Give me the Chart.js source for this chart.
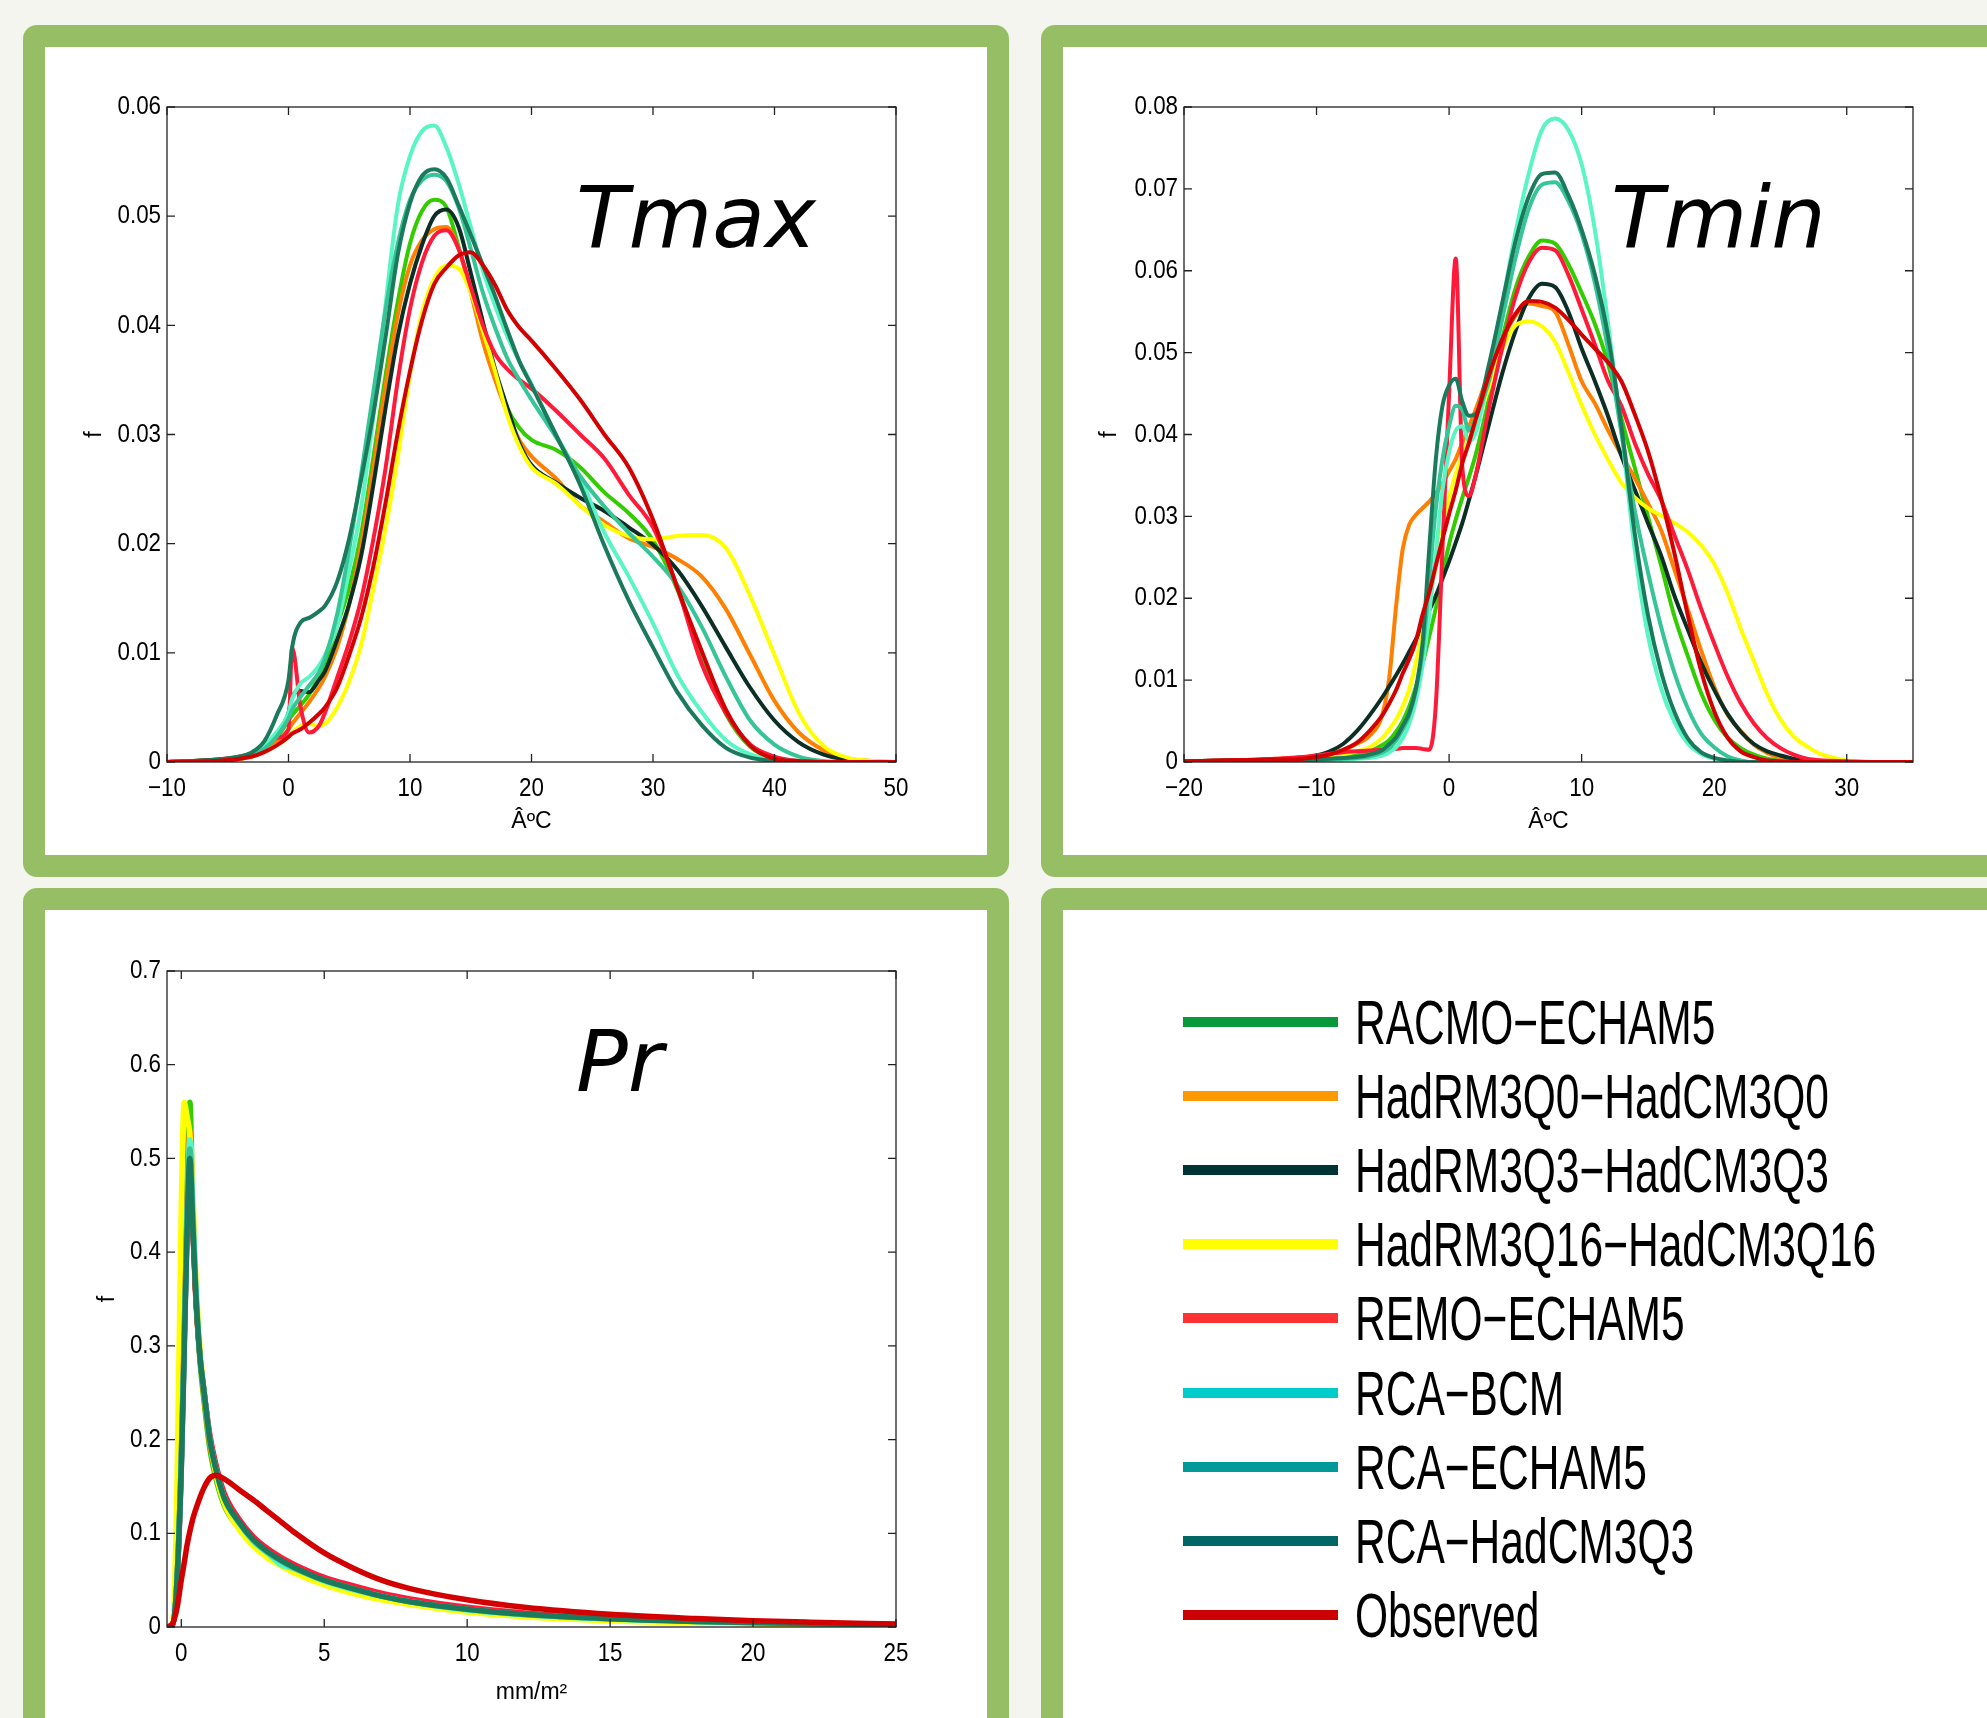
<!DOCTYPE html>
<html>
<head>
<meta charset="utf-8">
<title>Tmax / Tmin / Pr</title>
<script src="https://cdn.jsdelivr.net/npm/chart.js@4.4.1/dist/chart.umd.min.js"></script>
<style>
  html, body { margin: 0; padding: 0; }
  body { width: 1987px; height: 1718px; overflow: hidden; position: relative; background: #f4f5ee; }
  .panel { position: absolute; box-sizing: border-box; border: 22px solid #96be64; border-radius: 14px; background: #fff; }
  canvas { position: absolute; }
  .ttl { position: absolute; font: italic 86px 'DejaVu Sans', sans-serif; line-height: 86px; color: #000; white-space: nowrap; }
  .sw { position: absolute; left: 1183px; width: 155px; height: 10px; }
  .lab { position: absolute; left: 1355px; height: 70px; line-height: 70px; font-size: 63px; color: #000;
         font-family: 'Liberation Sans', Arial, sans-serif; white-space: nowrap;
         transform: scaleX(0.675); transform-origin: left center; }
</style>
</head>
<body>
<div class="panel" style="left:23px;top:25px;width:986px;height:852px"></div>
<div class="panel" style="left:1041px;top:25px;width:1100px;height:852px"></div>
<div class="panel" style="left:23px;top:888px;width:986px;height:1000px"></div>
<div class="panel" style="left:1041px;top:888px;width:1100px;height:1000px"></div>

<canvas id="cTmax" width="941" height="807" style="left:45px;top:47px"></canvas>
<canvas id="cTmin" width="924" height="807" style="left:1063px;top:47px"></canvas>
<canvas id="cPr" width="941" height="807" style="left:45px;top:911px"></canvas>

<div class="ttl" style="left:576px;top:174px">Tmax</div>
<div class="ttl" style="left:1611px;top:174px">Tmin</div>
<div class="ttl" style="left:576px;top:1018px">Pr</div>

<div id="legend"></div>

<script>
// model names, line colours in the plots, colours in the legend box
const names = ['RACMO-ECHAM5', 'HadRM3Q0-HadCM3Q0', 'HadRM3Q3-HadCM3Q3', 'HadRM3Q16-HadCM3Q16',
  'REMO-ECHAM5', 'RCA-BCM', 'RCA-ECHAM5', 'RCA-HadCM3Q3', 'Observed'];
const lineColors = ['#33cc00', '#ff8000', '#0c2e25', '#ffff00', '#ff1a3a', '#5af5c4', '#36c596', '#1c7a5c', '#d20000'];
const legendColors = ['#089a3a', '#ff9900', '#003333', '#ffff00', '#ff3333', '#00cccc', '#009999', '#006666', '#cc0000'];

// ---- Tmax ----
const tmaxX = [-10, -6, -4, -3, -2, -1, 0, 0.3, 1, 1.7, 2.5, 3, 4, 5, 6, 7, 8, 9, 10, 11, 12, 13, 14, 15, 16, 17, 18, 19, 20,
  22, 24, 26, 28, 30, 32, 34, 36, 38, 40, 42, 44, 46, 48, 50];
const tmaxRacmo = [0, 0.0002, 0.0004, 0.0007, 0.0012, 0.0022, 0.0038, 0.0043, 0.0052, 0.0062, 0.0078,
  0.009, 0.0125, 0.016, 0.021, 0.028, 0.0355, 0.0422, 0.0475, 0.0505, 0.0515, 0.0508, 0.0472, 0.0432, 0.039, 0.0353, 0.0324, 0.0306, 0.0295,
  0.0286, 0.027, 0.0247, 0.0228, 0.0203, 0.0158, 0.0097, 0.0044, 0.0014, 0.0003, 0.0001, 0, 0, 0, 0];
const tmaxQ0 = [0, 0.0001, 0.0003, 0.0005, 0.001, 0.0018, 0.003, 0.0035, 0.0045, 0.0055, 0.0068,
  0.0078, 0.0105, 0.0145, 0.02, 0.027, 0.0345, 0.041, 0.0455, 0.0478, 0.0488, 0.049, 0.047, 0.043, 0.0385, 0.035, 0.032, 0.0295, 0.028,
  0.026, 0.0235, 0.022, 0.0205, 0.0197, 0.0186, 0.017, 0.014, 0.0098, 0.0056, 0.0027, 0.0011, 0.0003, 0.0001, 0];
const tmaxQ3 = [0, 0.0002, 0.0004, 0.0007, 0.0013, 0.0024, 0.0045, 0.006, 0.0065, 0.0064, 0.0075,
  0.0083, 0.0112, 0.0145, 0.019, 0.0255, 0.0325, 0.039, 0.0438, 0.0474, 0.05, 0.0506, 0.049, 0.0448, 0.0403, 0.036, 0.0325, 0.0292, 0.0272,
  0.0256, 0.0242, 0.023, 0.0215, 0.0199, 0.0176, 0.0143, 0.0105, 0.0068, 0.0038, 0.0018, 0.0007, 0.0002, 0, 0];
const tmaxQ16 = [0, 0.0001, 0.0003, 0.0005, 0.0009, 0.0015, 0.0023, 0.0027, 0.0033, 0.0035, 0.0033,
  0.0035, 0.005, 0.0074, 0.0108, 0.016, 0.0215, 0.028, 0.0355, 0.0412, 0.0443, 0.0455, 0.0452, 0.043, 0.0395, 0.0358, 0.0318, 0.0289, 0.027,
  0.0255, 0.0235, 0.0217, 0.0207, 0.0204, 0.0207, 0.0208, 0.0196, 0.0152, 0.0098, 0.0045, 0.0015, 0.0004, 0.0001, 0];
const tmaxRemo = [0, 0.0002, 0.0005, 0.0008, 0.0013, 0.0022, 0.003, 0.0105, 0.005, 0.0027, 0.0033,
  0.0045, 0.0077, 0.011, 0.015, 0.0205, 0.027, 0.035, 0.0415, 0.0458, 0.0482, 0.0487, 0.047, 0.0435, 0.04, 0.0374, 0.036, 0.035, 0.0342,
  0.0322, 0.03, 0.0278, 0.0245, 0.0215, 0.016, 0.009, 0.0045, 0.0016, 0.0005, 0.0001, 0, 0, 0, 0];
const tmaxRcaBcm = [0, 0.0001, 0.0003, 0.0007, 0.0015, 0.0027, 0.0045, 0.0058, 0.0072, 0.0078, 0.0088,
  0.0098, 0.0125, 0.0176, 0.0235, 0.0318, 0.042, 0.051, 0.0555, 0.0578, 0.0583, 0.0563, 0.053, 0.049, 0.045, 0.0418, 0.039, 0.0367, 0.0346,
  0.03, 0.026, 0.021, 0.017, 0.0127, 0.008, 0.0046, 0.002, 0.0007, 0.0002, 0.0001, 0, 0, 0, 0];
const tmaxRcaEcham = [0, 0.0001, 0.0003, 0.0006, 0.0012, 0.0023, 0.004, 0.0048, 0.006, 0.007, 0.0082,
  0.0095, 0.0135, 0.0195, 0.0265, 0.034, 0.0415, 0.0475, 0.0515, 0.0533, 0.0538, 0.0532, 0.0508, 0.047, 0.043, 0.0398, 0.037, 0.035, 0.0332,
  0.0298, 0.0262, 0.0234, 0.021, 0.0188, 0.0162, 0.0124, 0.0078, 0.0038, 0.0016, 0.0005, 0.0001, 0, 0, 0];
const tmaxRcaHad = [0, 0.0002, 0.0005, 0.0009, 0.0019, 0.0042, 0.0075, 0.0105, 0.0128, 0.0132, 0.0138,
  0.0143, 0.0165, 0.0205, 0.026, 0.032, 0.039, 0.0465, 0.0512, 0.0537, 0.0543, 0.0535, 0.051, 0.0483, 0.0455, 0.0427, 0.0396, 0.0367, 0.0345,
  0.03, 0.0254, 0.0198, 0.0148, 0.0105, 0.0064, 0.0034, 0.0013, 0.0004, 0.0001, 0, 0, 0, 0, 0];
const tmaxObs = [0, 0.0001, 0.0003, 0.0005, 0.0009, 0.0015, 0.0023, 0.0026, 0.003, 0.0036, 0.0044,
  0.005, 0.0068, 0.0098, 0.0133, 0.018, 0.0238, 0.0302, 0.0358, 0.0405, 0.0438, 0.0453, 0.0464, 0.0467, 0.0455, 0.0437, 0.0414, 0.0398, 0.0386,
  0.036, 0.0332, 0.03, 0.027, 0.0222, 0.016, 0.0102, 0.0048, 0.0015, 0.0003, 0.0001, 0, 0, 0, 0];

// ---- Tmin ----
const tminX = [-20, -16, -13, -11, -10, -9, -8, -7, -6, -5,
  -4.5, -4, -3.5, -3, -2.5, -2, -1.5, -1, -0.5, 0, 0.5, 1, 1.5,
  2, 3, 4, 5, 6, 7, 8, 9, 10, 11, 12, 13, 14, 15, 16, 17, 18, 19, 20, 21, 22, 23, 24, 25, 26, 27, 28,
  30, 32, 35];
const tminRacmo = [0.0001, 0.0002, 0.0003, 0.0004, 0.0005, 0.0006, 0.0008, 0.001, 0.0013, 0.0021,
  0.0027, 0.0037, 0.005, 0.0068, 0.0092, 0.012, 0.0153, 0.0188, 0.0228, 0.0266, 0.0296, 0.0323, 0.0348,
  0.0375, 0.0443, 0.0516, 0.0578, 0.0617, 0.0637, 0.0633, 0.0608, 0.0573, 0.0535, 0.0486, 0.042, 0.036, 0.03, 0.024, 0.0178, 0.013, 0.0085,
  0.0052, 0.003, 0.0017, 0.0009, 0.0004, 0.0002, 0.0001, 0, 0,
  0, 0, 0];
const tminQ0 = [0.0001, 0.0002, 0.0004, 0.0006, 0.0008, 0.001, 0.0014, 0.0022, 0.0032, 0.006,
  0.0105, 0.019, 0.026, 0.029, 0.0302, 0.031, 0.0318, 0.0328, 0.034, 0.0355, 0.037, 0.039, 0.041,
  0.043, 0.0475, 0.0515, 0.0545, 0.056, 0.0557, 0.055, 0.051, 0.0465, 0.0438, 0.0405, 0.0375, 0.0347, 0.0316, 0.0283, 0.0235, 0.0187, 0.0137,
  0.0092, 0.0058, 0.0038, 0.0021, 0.0011, 0.0005, 0.0002, 0.0001, 0,
  0, 0, 0];
const tminQ3 = [0.0001, 0.0002, 0.0003, 0.0005, 0.0008, 0.0013, 0.0022, 0.0037, 0.0057, 0.008,
  0.0093, 0.0106, 0.012, 0.0135, 0.015, 0.0167, 0.0185, 0.0203, 0.0224, 0.0245, 0.0268, 0.0292, 0.032,
  0.0349, 0.0412, 0.0474, 0.0526, 0.0566, 0.0584, 0.058, 0.055, 0.0505, 0.0465, 0.0422, 0.0374, 0.0333, 0.0292, 0.0252, 0.0203, 0.0162, 0.0122,
  0.0088, 0.0059, 0.0037, 0.0022, 0.0013, 0.0008, 0.0004, 0.0002, 0.0001,
  0, 0, 0];
const tminQ16 = [0.0001, 0.0001, 0.0002, 0.0003, 0.0004, 0.0006, 0.0009, 0.0013, 0.0018, 0.003,
  0.004, 0.0052, 0.0068, 0.0089, 0.0122, 0.0158, 0.0198, 0.024, 0.0283, 0.0323, 0.0352, 0.0375, 0.0395,
  0.0412, 0.0457, 0.0503, 0.0533, 0.0538, 0.0532, 0.0513, 0.0476, 0.0436, 0.04, 0.0369, 0.0341, 0.0323, 0.031, 0.0301, 0.0292, 0.0281, 0.0265,
  0.0242, 0.0207, 0.0163, 0.0123, 0.0083, 0.0052, 0.0031, 0.0019, 0.001,
  0.0002, 0, 0];
const tminRemo = [0.0001, 0.0002, 0.0004, 0.0006, 0.0008, 0.001, 0.0012, 0.0013, 0.0014, 0.0015,
  0.0016, 0.0016, 0.0017, 0.0017, 0.0017, 0.0016, 0.0015, 0.007, 0.026, 0.045, 0.0615, 0.036, 0.0325,
  0.035, 0.0432, 0.0505, 0.0568, 0.061, 0.0628, 0.0625, 0.0595, 0.0553, 0.051, 0.0465, 0.0435, 0.039, 0.0352, 0.032, 0.0277, 0.0235, 0.0188,
  0.0145, 0.0105, 0.0072, 0.0047, 0.0029, 0.0017, 0.0009, 0.0004, 0.0002,
  0.0001, 0, 0];
const tminRcaBcm = [0, 0.0001, 0.0001, 0.0002, 0.0002, 0.0003, 0.0003, 0.0004, 0.0005, 0.0008,
  0.0012, 0.0018, 0.0029, 0.0047, 0.0075, 0.0118, 0.018, 0.0255, 0.0332, 0.0378, 0.0405, 0.041, 0.0392,
  0.0402, 0.0474, 0.0558, 0.0646, 0.0718, 0.0772, 0.0786, 0.0772, 0.073, 0.065, 0.0535, 0.0405, 0.026, 0.0155, 0.009, 0.0049, 0.0023, 0.001,
  0.0004, 0.0001, 0, 0, 0, 0, 0, 0, 0,
  0, 0, 0];
const tminRcaEcham = [0, 0.0001, 0.0001, 0.0002, 0.0003, 0.0003, 0.0004, 0.0005, 0.0007, 0.0012,
  0.0017, 0.0026, 0.004, 0.0057, 0.0088, 0.0135, 0.0222, 0.031, 0.037, 0.041, 0.0435, 0.043, 0.0405,
  0.042, 0.0465, 0.054, 0.0615, 0.0675, 0.0705, 0.0708, 0.0685, 0.0645, 0.0585, 0.0503, 0.0402, 0.0308, 0.0232, 0.0165, 0.0109, 0.0066, 0.0035,
  0.0018, 0.0007, 0.0002, 0, 0, 0, 0, 0, 0,
  0, 0, 0];
const tminRcaHad = [0, 0.0001, 0.0002, 0.0002, 0.0003, 0.0004, 0.0005, 0.0006, 0.0009, 0.0015,
  0.0022, 0.003, 0.0044, 0.006, 0.009, 0.0145, 0.026, 0.037, 0.0435, 0.046, 0.0468, 0.044, 0.0423,
  0.0425, 0.0485, 0.056, 0.0635, 0.069, 0.0718, 0.072, 0.0692, 0.065, 0.0595, 0.052, 0.041, 0.028, 0.018, 0.011, 0.0061, 0.0029, 0.0012,
  0.0005, 0.0002, 0, 0, 0, 0, 0, 0, 0,
  0, 0, 0];
const tminObs = [0.0001, 0.0002, 0.0003, 0.0004, 0.0006, 0.0009, 0.0015, 0.0023, 0.0038, 0.0058,
  0.0072, 0.0088, 0.0108, 0.0126, 0.0148, 0.018, 0.0207, 0.024, 0.0272, 0.0303, 0.0332, 0.0365, 0.039,
  0.0418, 0.0472, 0.0516, 0.0547, 0.0563, 0.0562, 0.0555, 0.054, 0.0522, 0.0505, 0.0488, 0.0465, 0.0425, 0.038, 0.0322, 0.0255, 0.018, 0.0112,
  0.0062, 0.003, 0.0013, 0.0006, 0.0002, 0.0001, 0, 0, 0,
  0, 0, 0];

// ---- Pr ----
const prX = [-0.5, -0.3, -0.15, 0, 0.1, 0.2, 0.3, 0.4, 0.5, 0.65, 0.8, 1, 1.2, 1.5, 2, 2.5, 3, 3.5, 4, 5, 6, 7, 8, 10, 12, 15, 18, 20, 22, 25];
const prRacmo = [0, 0.003, 0.06, 0.2, 0.33, 0.47, 0.56, 0.45, 0.36, 0.285, 0.24, 0.19, 0.16, 0.13, 0.106, 0.089, 0.077, 0.068, 0.06, 0.048,
  0.039, 0.032, 0.026, 0.018, 0.0125, 0.008, 0.0053, 0.0041, 0.0032, 0.002];
const prQ0 = [0, 0.003, 0.055, 0.19, 0.32, 0.45, 0.53, 0.44, 0.36, 0.29, 0.245, 0.195, 0.165, 0.134, 0.109, 0.091, 0.078, 0.069, 0.061, 0.049,
  0.04, 0.033, 0.027, 0.0185, 0.013, 0.0084, 0.0057, 0.0044, 0.0034, 0.0021];
const prQ3 = [0, 0.003, 0.05, 0.17, 0.3, 0.42, 0.49, 0.43, 0.36, 0.29, 0.25, 0.2, 0.17, 0.138, 0.112, 0.093, 0.08, 0.07, 0.062, 0.05,
  0.041, 0.033, 0.027, 0.019, 0.0135, 0.0088, 0.006, 0.0047, 0.0037, 0.0024];
const prQ16 = [0, 0.005, 0.15, 0.45, 0.56, 0.545, 0.525, 0.47, 0.38, 0.3, 0.25, 0.2, 0.165, 0.132, 0.105, 0.087, 0.074, 0.065, 0.057, 0.045,
  0.036, 0.029, 0.024, 0.016, 0.011, 0.0068, 0.0045, 0.0034, 0.0026, 0.0016];
const prRemo = [0, 0.003, 0.05, 0.18, 0.31, 0.44, 0.51, 0.43, 0.355, 0.29, 0.25, 0.205, 0.175, 0.143, 0.116, 0.097, 0.084, 0.074, 0.066, 0.053,
  0.044, 0.036, 0.03, 0.021, 0.015, 0.0098, 0.0067, 0.0052, 0.0041, 0.0027];
const prRcaBcm = [0, 0.003, 0.05, 0.18, 0.3, 0.44, 0.52, 0.45, 0.37, 0.29, 0.25, 0.2, 0.17, 0.138, 0.112, 0.092, 0.079, 0.066, 0.062, 0.049,
  0.04, 0.033, 0.027, 0.018, 0.013, 0.0085, 0.0058, 0.0045, 0.0035, 0.0022];
const prRcaEcham = [0, 0.003, 0.05, 0.18, 0.3, 0.43, 0.51, 0.44, 0.365, 0.29, 0.25, 0.2, 0.17, 0.138, 0.112, 0.093, 0.08, 0.07, 0.062, 0.05,
  0.041, 0.033, 0.027, 0.019, 0.0133, 0.0087, 0.0059, 0.0046, 0.0036, 0.0023];
const prRcaHad = [0, 0.003, 0.05, 0.17, 0.29, 0.42, 0.5, 0.43, 0.36, 0.29, 0.25, 0.2, 0.17, 0.138, 0.113, 0.094, 0.081, 0.071, 0.063, 0.05,
  0.041, 0.033, 0.027, 0.019, 0.0135, 0.0088, 0.006, 0.0047, 0.0037, 0.0024];
const prObs = [0, 0.004, 0.02, 0.05, 0.068, 0.087, 0.102, 0.115, 0.125, 0.138, 0.149, 0.159, 0.162, 0.158, 0.147, 0.136, 0.124, 0.112, 0.1, 0.079,
  0.063, 0.05, 0.041, 0.029, 0.021, 0.0135, 0.009, 0.0068, 0.0052, 0.0032];

// tick values
const tmaxXTicks = [-10, 0, 10, 20, 30, 40, 50];
const tmaxYTicks = [0, 0.01, 0.02, 0.03, 0.04, 0.05, 0.06];
const tminXTicks = [-20, -10, 0, 10, 20, 30];
const tminYTicks = [0, 0.01, 0.02, 0.03, 0.04, 0.05, 0.06, 0.07, 0.08];
const prXTicks = [0, 5, 10, 15, 20, 25];
const prYTicks = [0, 0.1, 0.2, 0.3, 0.4, 0.5, 0.6, 0.7];

const titleFont = { family: "'Liberation Sans', Arial, sans-serif", size: 23 };

function fmt(v) {
  return String(Math.round(v * 1000) / 1000).replace('-', '\u2212');
}

// matlab style box, inward ticks on all four sides, narrow tick labels
const boxPlugin = {
  id: 'box',
  afterDatasetsDraw(chart) {
    const ctx = chart.ctx;
    const a = chart.chartArea;
    const xs = chart.scales.x, ys = chart.scales.y;
    const len = 8;
    ctx.save();
    ctx.strokeStyle = '#222';
    ctx.lineWidth = 1.3;
    ctx.strokeRect(a.left, a.top, a.right - a.left, a.bottom - a.top);
    ctx.beginPath();
    xs.ticks.forEach(t => {
      const px = xs.getPixelForValue(t.value);
      ctx.moveTo(px, a.bottom); ctx.lineTo(px, a.bottom - len);
      ctx.moveTo(px, a.top); ctx.lineTo(px, a.top + len);
    });
    ys.ticks.forEach(t => {
      const py = ys.getPixelForValue(t.value);
      ctx.moveTo(a.left, py); ctx.lineTo(a.left + len, py);
      ctx.moveTo(a.right, py); ctx.lineTo(a.right - len, py);
    });
    ctx.stroke();

    ctx.fillStyle = '#000';
    ctx.font = "26px 'Liberation Sans', Arial, sans-serif";
    ctx.textBaseline = 'middle';
    const put = (txt, x, y) => {
      ctx.save();
      ctx.translate(x, y);
      ctx.scale(0.86, 1);
      ctx.fillText(txt, 0, 0);
      ctx.restore();
    };
    ctx.textAlign = 'center';
    xs.ticks.forEach(t => put(fmt(t.value), xs.getPixelForValue(t.value), a.bottom + 27));
    ctx.textAlign = 'right';
    ys.ticks.forEach(t => put(fmt(t.value), a.left - 6, ys.getPixelForValue(t.value)));
    ctx.restore();
  }
};

function makeChart(id, xs, series, cfg) {
  const datasets = series.map((ys, i) => ({
    label: names[i],
    data: xs.map((x, j) => ({ x: x, y: ys[j] })),
    borderColor: lineColors[i],
    borderWidth: cfg.lineWidth,
    pointRadius: 0,
    fill: false,
    cubicInterpolationMode: 'monotone',
    borderJoinStyle: 'round',
    borderCapStyle: 'round',
    order: series.length - i
  }));
  return new Chart(document.getElementById(id), {
    type: 'line',
    data: { datasets: datasets },
    plugins: [boxPlugin],
    options: {
      responsive: false,
      animation: false,
      devicePixelRatio: 1,
      layout: { padding: { top: 60, right: cfg.padRight, left: 0, bottom: 0 } },
      plugins: { legend: { display: false }, tooltip: { enabled: false } },
      scales: {
        x: {
          type: 'linear',
          min: cfg.xMin, max: cfg.xMax,
          afterBuildTicks: s => { s.ticks = cfg.xTicks.map(v => ({ value: v })); },
          afterFit: s => { s.height = cfg.xHeight; },
          grid: { display: false },
          border: { display: false },
          ticks: { display: false },
          title: { display: true, text: cfg.xTitle, font: titleFont, color: '#000', padding: { top: 0, bottom: cfg.xTitlePad } }
        },
        y: {
          type: 'linear',
          min: 0, max: cfg.yMax,
          afterBuildTicks: s => { s.ticks = cfg.yTicks.map(v => ({ value: v })); },
          afterFit: s => { s.width = cfg.yWidth; },
          grid: { display: false },
          border: { display: false },
          ticks: { display: false },
          title: { display: true, text: 'f', font: titleFont, color: '#000', padding: { top: cfg.yTitlePad, bottom: 0 } }
        }
      }
    }
  });
}

makeChart('cTmax',
  tmaxX, [tmaxRacmo, tmaxQ0, tmaxQ3, tmaxQ16, tmaxRemo, tmaxRcaBcm, tmaxRcaEcham, tmaxRcaHad, tmaxObs],
  { xMin: -10, xMax: 50, yMax: 0.06, xTicks: tmaxXTicks, yTicks: tmaxYTicks, xTitle: '\u00c2\u00baC',
    padRight: 90, xHeight: 92, yWidth: 122, xTitlePad: 19, yTitlePad: 36, lineWidth: 4 });

makeChart('cTmin',
  tminX, [tminRacmo, tminQ0, tminQ3, tminQ16, tminRemo, tminRcaBcm, tminRcaEcham, tminRcaHad, tminObs],
  { xMin: -20, xMax: 35, yMax: 0.08, xTicks: tminXTicks, yTicks: tminYTicks, xTitle: '\u00c2\u00baC',
    padRight: 74, xHeight: 92, yWidth: 121, xTitlePad: 19, yTitlePad: 33, lineWidth: 4 });

makeChart('cPr',
  prX, [prRacmo, prQ0, prQ3, prQ16, prRemo, prRcaBcm, prRcaEcham, prRcaHad, prObs],
  { xMin: -0.5, xMax: 25, yMax: 0.7, xTicks: prXTicks, yTicks: prYTicks, xTitle: 'mm/m\u00b2',
    padRight: 90, xHeight: 91, yWidth: 122, xTitlePad: 12, yTitlePad: 49, lineWidth: 5.5 });

// legend box (bottom right panel)
const legendBox = document.getElementById('legend');
names.forEach((n, i) => {
  const yc = 1021.6 + i * 74.2;
  const sw = document.createElement('div');
  sw.className = 'sw';
  sw.style.top = (yc - 5) + 'px';
  sw.style.background = legendColors[i];
  legendBox.appendChild(sw);
  const lab = document.createElement('div');
  lab.className = 'lab';
  lab.style.top = (yc - 35) + 'px';
  lab.textContent = n.replace('-', '\u2212');
  legendBox.appendChild(lab);
});
</script>
</body>
</html>
